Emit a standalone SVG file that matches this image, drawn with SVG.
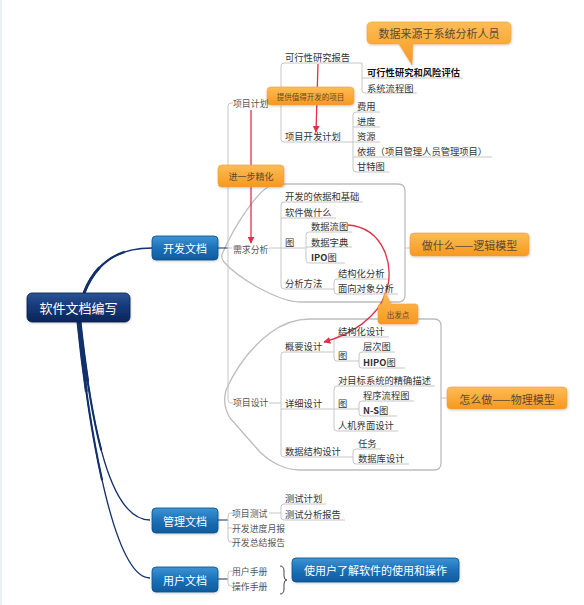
<svg xmlns="http://www.w3.org/2000/svg" width="584" height="605" viewBox="0 0 584 605">
<style>
text{font-family:"Noto Sans CJK SC","Noto Sans",sans-serif;dominant-baseline:central}
.t{font-size:9.3px;fill:#333}
.t1{font-size:8.9px;fill:#555}
.b{font-weight:bold;fill:#111}
.w{fill:#fff;text-anchor:middle}
.o{fill:#5c4a32;text-anchor:middle}
.g{fill:none;stroke:#c6c6c6;stroke-width:1}
.nv{fill:none;stroke:#12306a}
.rd{fill:none;stroke:#e0304a;stroke-width:1.3}
.bd{fill:none;stroke:#bdbdbd;stroke-width:1.3}
.orng{fill:url(#og);stroke:#f0a040;stroke-width:.6;filter:url(#sh)}
.blue{fill:url(#bg);stroke:#0d4f8c;stroke-width:.8;filter:url(#sh)}
</style>
<defs>
<linearGradient id="rg" x1="0" y1="0" x2="0" y2="1"><stop offset="0" stop-color="#2c5594"/><stop offset=".45" stop-color="#17397a"/><stop offset="1" stop-color="#0a2558"/></linearGradient>
<linearGradient id="bg" x1="0" y1="0" x2="0" y2="1"><stop offset="0" stop-color="#3d94d4"/><stop offset=".5" stop-color="#1c71b8"/><stop offset="1" stop-color="#0f5b9e"/></linearGradient>
<linearGradient id="og" x1="0" y1="0" x2="0" y2="1"><stop offset="0" stop-color="#fdbd55"/><stop offset="1" stop-color="#f6981f"/></linearGradient>
<filter id="sh" x="-10%" y="-20%" width="120%" height="150%"><feDropShadow dx="0.5" dy="1" stdDeviation="0.8" flood-color="#000" flood-opacity="0.2"/></filter>
<marker id="ar" viewBox="0 0 10 10" refX="9" refY="5" markerWidth="7" markerHeight="7" markerUnits="userSpaceOnUse" orient="auto"><path d="M0,0 L10,5 L0,10 Z" fill="#e0304a"/></marker>
<path id="c1" d="M84,293 C95,265 115,248 152,248"/>
<path id="c2" d="M80,322 C92,430 110,520 150,520"/>
<path id="c3" d="M78,322 C90,440 115,578 150,578"/>
</defs>
<rect width="584" height="605" fill="#fff"/>
<rect x="0" y="0" width="2" height="605" fill="#eaf1f2"/>

<g id="boundaries">
<path class="bd" d="M280,184 L398,184 Q405,184 405,191 L405,295 Q405,302 398,302 L300,302 C280,302 240,280 224,262 Q220,257 223,252 C235,225 255,195 268,187 Q272,184 280,184 Z"/>
<path class="bd" d="M310,319 L434,319 Q441,319 441,326 L441,463 Q441,470 434,470 L300,470 C285,470 270,462 260,452 L230,418 Q222,405 226,390 C235,370 250,348 270,333 C282,324 295,319 310,319 Z"/>
</g>

<g id="connectors">
<use href="#c1" class="nv" stroke-width="1.4"/>
<use href="#c1" class="nv" stroke-width="2.2" stroke-dasharray="60 1000"/>
<use href="#c1" class="nv" stroke-width="3" stroke-dasharray="30 1000"/>
<use href="#c2" class="nv" stroke-width="1.3"/>
<use href="#c2" class="nv" stroke-width="2.1" stroke-dasharray="130 1000"/>
<use href="#c2" class="nv" stroke-width="3" stroke-dasharray="60 1000"/>
<use href="#c3" class="nv" stroke-width="1.3"/>
<use href="#c3" class="nv" stroke-width="2.1" stroke-dasharray="160 1000"/>
<use href="#c3" class="nv" stroke-width="3" stroke-dasharray="70 1000"/>
<path class="nv" stroke-width="1" d="M218,248 L228,248 M218,520 L228,520 M218,579 L228,579"/>
<path class="g" d="M233,103 L231,103 Q228,103 228,106 L228,400 Q228,403 231,403 L233,403 M228,248 L232,248"/>
<path class="g" d="M269,103 L281,103 M362,63 L284,63 Q281,63 281,66 L281,139 Q281,142 284,142 L353,142"/>
<path class="g" d="M362,63 L362,90 Q362,93 365,93 L417,93 M362,78 L463,78"/>
<path class="g" d="M380,112 L356,112 Q353,112 353,115 L353,169 Q353,172 356,172 L389,172 M353,127 L380,127 M353,142 L380,142 M353,157 L492,157"/>
<path class="g" d="M269,248 L281,248 M363,202 L284,202 Q281,202 281,205 L281,286 Q281,289 284,289 L334,289 M281,218 L336,218 M281,248 L306,248"/>
<path class="g" d="M352,232 L309,232 Q306,232 306,235 L306,260 Q306,263 309,263 L345,263 M306,247 L352,247"/>
<path class="g" d="M389,279 L337,279 Q334,279 334,282 L334,291 Q334,294 337,294 L398,294"/>
<path class="g" d="M269,403 L281,403 M334,352 L284,352 Q281,352 281,355 L281,454 Q281,457 284,457 L353,457 M281,409 L334,409"/>
<path class="g" d="M389,337 L337,337 Q334,337 334,340 L334,358 Q334,361 337,361 L359,361"/>
<path class="g" d="M395,352 L362,352 Q359,352 359,355 L359,365 Q359,368 362,368 L405,368"/>
<path class="g" d="M435,386 L337,386 Q334,386 334,389 L334,428 Q334,431 337,431 L398,431 M334,409 L359,409"/>
<path class="g" d="M414,401 L362,401 Q359,401 359,404 L359,413 Q359,416 362,416 L397,416"/>
<path class="g" d="M381,449 L356,449 Q353,449 353,452 L353,461 Q353,464 356,464 L409,464"/>
<path class="g" d="M233,513 L231,513 Q228,513 228,516 L228,539 Q228,542 231,542 L233,542 M228,528 L232,528"/>
<path class="g" d="M269,513 L281,513 M326,504 L284,504 Q281,504 281,507 L281,517 Q281,520 284,520 L345,520"/>
<path class="g" d="M233,571 L231,571 Q228,571 228,574 L228,583 Q228,586 231,586 L233,586"/>
<path class="g" d="M405,248 L410,248 M441,398 L447,398"/>
<path fill="none" stroke="#444" stroke-width="1" d="M280,566 Q284,566 284,571 L284,576 Q284,580 287,580 Q284,580 284,584 L284,589 Q284,594 280,594"/>
<path class="rd" marker-end="url(#ar)" d="M318,64 L316,132"/>
<path class="rd" marker-end="url(#ar)" d="M251,110 L251,243"/>
<path class="rd" marker-end="url(#ar)" d="M348,225 C385,228 395,268 386,292 C378,318 350,335 324,342"/>
</g>

<g id="root"><rect x="27" y="293" width="103" height="29" rx="5" fill="url(#rg)" stroke="#081d47" stroke-width=".8" filter="url(#sh)"/><text class="w" x="78.5" y="307.5" font-size="13">软件文档编写</text></g>
<g id="kaifa"><rect class="blue" x="152" y="236" width="66" height="24" rx="4"/><text class="w" x="185" y="248" font-size="11">开发文档</text></g>
<g id="guanli"><rect class="blue" x="152" y="508" width="66" height="25" rx="4"/><text class="w" x="185" y="520.5" font-size="11">管理文档</text></g>
<g id="yonghu"><rect class="blue" x="152" y="567" width="66" height="25" rx="4"/><text class="w" x="185" y="579.5" font-size="11">用户文档</text></g>
<g id="note-user"><rect class="blue" x="292" y="558" width="167" height="24" rx="4"/><text class="w" x="375.5" y="570" font-size="11">使用户了解软件的使用和操作</text></g>

<g id="callout-source"><path class="orng" d="M372,22 L506,22 Q511,22 511,27 L511,39 Q511,44 506,44 L413,44 L412,65 L399,44 L372,44 Q367,44 367,39 L367,27 Q367,22 372,22 Z"/><text class="o" x="439" y="33" font-size="11">数据来源于系统分析人员</text></g>
<g id="callout-worth"><rect class="orng" x="267" y="87" width="87" height="18" rx="4"/><text class="o" x="310.5" y="96" font-size="7.5">提供值得开发的项目</text></g>
<g id="callout-refine"><rect class="orng" x="218" y="165" width="66" height="22" rx="4"/><text class="o" x="251" y="176.5" font-size="9">进一步精化</text></g>
<g id="callout-what"><rect class="orng" x="410" y="233" width="119" height="23" rx="4"/><text class="o" x="469.5" y="245" font-size="11">做什么——逻辑模型</text></g>
<g id="callout-start"><path class="orng" d="M381,304 L382,304 L385,292 L391,304 L415,304 Q418,304 418,307 L418,321 Q418,324 415,324 L381,324 Q378,324 378,321 L378,307 Q378,304 381,304 Z"/><text class="o" x="398" y="314" font-size="7.5">出发点</text></g>
<g id="callout-how"><rect class="orng" x="447" y="387" width="120" height="22" rx="4"/><text class="o" x="507" y="398.5" font-size="11">怎么做——物理模型</text></g>

<g id="n-plan"><text class="t1" x="233" y="103">项目计划</text></g>
<g id="n-req"><text class="t1" x="233" y="249">需求分析</text></g>
<g id="n-design"><text class="t1" x="233" y="402">项目设计</text></g>
<g id="n-feas"><text class="t" x="285" y="57">可行性研究报告</text></g>
<g id="n-devplan"><text class="t" x="285" y="136">项目开发计划</text></g>
<g id="n-risk"><text class="t b" x="367" y="72">可行性研究和风险评估</text></g>
<g id="n-sysflow"><text class="t" x="367" y="87.5">系统流程图</text></g>
<g id="n-cost"><text class="t" x="357" y="106">费用</text></g>
<g id="n-prog"><text class="t" x="357" y="121">进度</text></g>
<g id="n-res"><text class="t" x="357" y="136">资源</text></g>
<g id="n-basis"><text class="t" x="357" y="151">依据（项目管理人员管理项目）</text></g>
<g id="n-gantt"><text class="t" x="357" y="166">甘特图</text></g>
<g id="n-found"><text class="t" x="285" y="196">开发的依据和基础</text></g>
<g id="n-what"><text class="t" x="285" y="212">软件做什么</text></g>
<g id="n-fig1"><text class="t" x="285" y="242">图</text></g>
<g id="n-dfd"><text class="t" x="311" y="226">数据流图</text></g>
<g id="n-dd"><text class="t" x="311" y="241.5">数据字典</text></g>
<g id="n-ipo"><text class="t" x="311" y="257"><tspan font-weight="bold">IPO</tspan>图</text></g>
<g id="n-method"><text class="t" x="285" y="283">分析方法</text></g>
<g id="n-sa"><text class="t" x="338" y="273">结构化分析</text></g>
<g id="n-oa"><text class="t" x="338" y="288">面向对象分析</text></g>
<g id="n-outline"><text class="t" x="285" y="346">概要设计</text></g>
<g id="n-sd"><text class="t" x="338" y="331">结构化设计</text></g>
<g id="n-fig2"><text class="t" x="338" y="355">图</text></g>
<g id="n-hier"><text class="t" x="363" y="346">层次图</text></g>
<g id="n-hipo"><text class="t" x="363" y="362"><tspan font-weight="bold">HIPO</tspan>图</text></g>
<g id="n-detail"><text class="t" x="285" y="402.5">详细设计</text></g>
<g id="n-precise"><text class="t" x="338" y="380">对目标系统的精确描述</text></g>
<g id="n-fig3"><text class="t" x="338" y="403">图</text></g>
<g id="n-pf"><text class="t" x="363" y="395">程序流程图</text></g>
<g id="n-ns"><text class="t" x="363" y="410"><tspan font-weight="bold">N-S</tspan>图</text></g>
<g id="n-ui"><text class="t" x="338" y="425">人机界面设计</text></g>
<g id="n-ds"><text class="t" x="285" y="451">数据结构设计</text></g>
<g id="n-task"><text class="t" x="358" y="443">任务</text></g>
<g id="n-db"><text class="t" x="358" y="458">数据库设计</text></g>
<g id="n-test"><text class="t1" x="232" y="513">项目测试</text></g>
<g id="n-tplan"><text class="t" x="285" y="498">测试计划</text></g>
<g id="n-treport"><text class="t" x="285" y="514">测试分析报告</text></g>
<g id="n-monthly"><text class="t1" x="232" y="528">开发进度月报</text></g>
<g id="n-summary"><text class="t1" x="232" y="542">开发总结报告</text></g>
<g id="n-um"><text class="t1" x="232" y="571">用户手册</text></g>
<g id="n-om"><text class="t1" x="232" y="586">操作手册</text></g>
</svg>
